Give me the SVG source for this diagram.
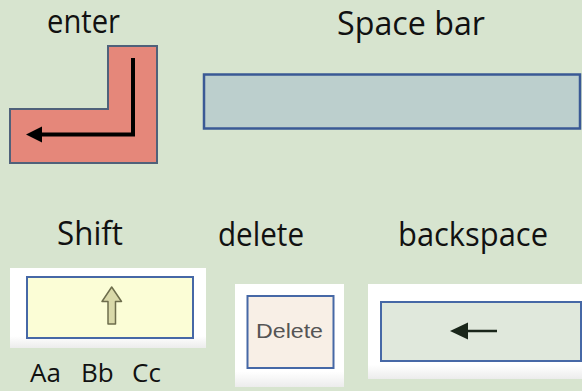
<svg xmlns="http://www.w3.org/2000/svg" width="582" height="391" viewBox="0 0 582 391">
  <defs>
    <style>
      .lbl { font-family: "Open Sans", "Noto Sans", sans-serif; font-size: 32px; fill: #111; }
      .keyline { stroke: #4668a6; stroke-width: 2; }
    </style>
    <linearGradient id="shade" x1="0" y1="0" x2="0" y2="1">
      <stop offset="0" stop-color="#ffffff"/>
      <stop offset="0.85" stop-color="#ffffff"/>
      <stop offset="1" stop-color="#ececec"/>
    </linearGradient>
  </defs>
  <rect x="0" y="0" width="582" height="391" fill="#d7e4cf"/>

  <g id="enter">
    <text class="lbl" x="47" y="33" textLength="73" lengthAdjust="spacingAndGlyphs">enter</text>
    <polygon points="108,46 157,46 157,163 10,163 10,109 108,109" fill="#e5877a" stroke="#4f617a" stroke-width="2"/>
    <polyline points="133,58 133,134.5 40,134.5" fill="none" stroke="#000" stroke-width="4"/>
    <polygon points="26,134.5 42,126.5 42,142.5" fill="#000"/>
  </g>

  <g id="spacebar">
    <text class="lbl" x="337" y="35" textLength="148" lengthAdjust="spacingAndGlyphs">Space bar</text>
    <rect x="204" y="74.5" width="376" height="54" fill="#bccfcd" stroke="#3a5995" stroke-width="2.5"/>
  </g>

  <g id="shift">
    <text class="lbl" x="57" y="245" textLength="66" lengthAdjust="spacingAndGlyphs">Shift</text>
    <rect x="10" y="268" width="196" height="80" fill="url(#shade)"/>
    <rect x="27" y="277" width="166" height="61" fill="#fbfdd6" class="keyline"/>
    <polygon points="111.7,287 121.5,301.5 115.5,301.5 115.5,324 108,324 108,301.5 102,301.5" fill="#d9d9a9" stroke="#6d6d4c" stroke-width="1.5" stroke-linejoin="round"/>
    <text font-family="'Open Sans', 'Noto Sans', sans-serif" font-size="26" fill="#111" y="382"><tspan x="30">Aa</tspan><tspan x="81">Bb</tspan><tspan x="132">Cc</tspan></text>
  </g>

  <g id="delete">
    <text class="lbl" x="218" y="246" textLength="86" lengthAdjust="spacingAndGlyphs">delete</text>
    <rect x="235" y="284" width="109" height="103" fill="url(#shade)"/>
    <rect x="247.5" y="296" width="86" height="72" fill="#f8efe6" class="keyline"/>
    <text x="256" y="338" font-family="'Liberation Sans', Arial, sans-serif" font-size="21" fill="#555" textLength="67" lengthAdjust="spacingAndGlyphs">Delete</text>
  </g>

  <g id="backspace">
    <text class="lbl" x="398" y="246" textLength="150" lengthAdjust="spacingAndGlyphs">backspace</text>
    <rect x="368" y="284" width="214" height="95" fill="url(#shade)"/>
    <rect x="381" y="302" width="200" height="59" fill="#e0e8dc" class="keyline"/>
    <line x1="466" y1="331" x2="497" y2="331" stroke="#1a261a" stroke-width="2.5"/>
    <polygon points="450,331 468,322.5 468,339.5" fill="#1a261a"/>
  </g>
</svg>
